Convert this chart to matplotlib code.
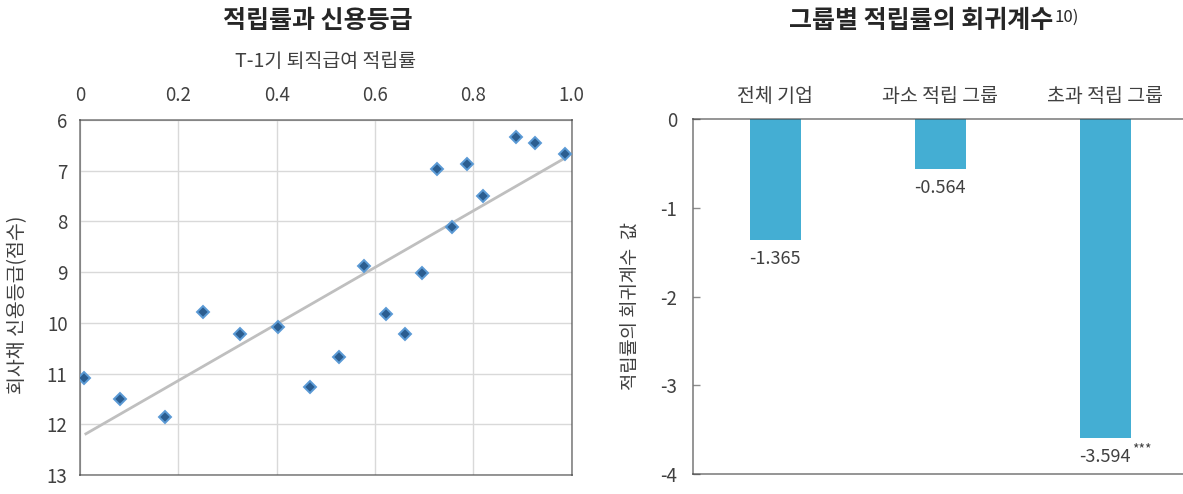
import matplotlib.pyplot as plt
import numpy as np

plt.rcParams['font.family'] = ['Noto Sans CJK KR', 'DejaVu Sans']

# left: 적립률 vs 신용등급
rate = [0.008, 0.081, 0.172, 0.250, 0.325, 0.402, 0.468, 0.527, 0.577, 0.623,
        0.660, 0.695, 0.726, 0.756, 0.788, 0.819, 0.887, 0.925, 0.986]
grade = [11.08, 11.50, 11.85, 9.78, 10.22, 10.08, 11.26, 10.68, 8.87, 9.83,
         10.21, 9.02, 6.96, 8.10, 6.87, 7.49, 6.34, 6.45, 6.68]
rate_ticks = [0, 0.2, 0.4, 0.6, 0.8, 1.0]
rate_ticklabels = ['0', '0.2', '0.4', '0.6', '0.8', '1.0']
grade_ticks = [6, 7, 8, 9, 10, 11, 12, 13]

# right: 그룹별 회귀계수
groups = ['전체 기업', '과소 적립 그룹', '초과 적립 그룹']
coef = [-1.365, -0.564, -3.594]
stars = ['', '', '***']
coef_ticks = [0, -1, -2, -3, -4]

W, H = 1183, 494
text_c = '#404040'
spine_c = (0.25, 0.25, 0.25, 0.6)

fig = plt.figure(figsize=(W / 100, H / 100), dpi=100)

# ---- scatter with trend line
ax1 = fig.add_axes([80 / W, 1 - 475 / H, 491.7 / W, 355 / H])
ax1.set_xlim(0, 1)
ax1.set_ylim(13, 6)
ax1.xaxis.tick_top()
ax1.set_xticks(rate_ticks, rate_ticklabels)
ax1.set_yticks(grade_ticks)
ax1.tick_params(length=0, labelsize=13.5, labelcolor=text_c)
ax1.tick_params(axis='x', pad=10)
ax1.tick_params(axis='y', pad=9)
ax1.grid(color='#d9d9d9', lw=1)
ax1.set_axisbelow(True)
for s in ax1.spines.values():
    s.set_color(spine_c)
    s.set_linewidth(1.3)

b, a = np.polyfit(rate, grade, 1)
xs = np.array([min(rate) + 0.004, max(rate)])
ax1.plot(xs, a + b * xs, color='#bfbfbf', lw=2, zorder=2)
ax1.plot(rate, grade, ls='none', marker='D', ms=6.5, mfc='#2b5d90',
         mec='#5b9ad5', mew=1.4, zorder=3)

ax1.xaxis.set_label_position('top')
ax1.set_xlabel('T-1기 퇴직급여 적립률', fontsize=14, color=text_c, labelpad=13)
fig.text(18 / W, 1 - 305 / H, '회사채 신용등급(점수)', rotation=90,
         ha='center', va='center', fontsize=14, color=text_c)
fig.text((80 + 571.7) / 2 / W - 8 / W, 1 - 21 / H, '적립률과 신용등급',
         ha='center', va='center', fontsize=18, weight='bold', color='#262626')

# ---- bars
ax2 = fig.add_axes([692.7 / W, 1 - 474 / H, 495 / W, (474 - 119.3) / H])
x = np.arange(len(groups))
ax2.bar(x, coef, width=0.31, color='#44aed3', zorder=1)
ax2.set_xlim(-0.5, 2.5)
ax2.set_ylim(-4, 0)
ax2.xaxis.tick_top()
ax2.set_xticks(x, groups)
ax2.set_yticks(coef_ticks, ['0', '-1', '-2', '-3', '-4'])
ax2.tick_params(axis='x', length=0, pad=9, labelsize=14, labelcolor=text_c)
ax2.tick_params(axis='y', direction='in', length=5, width=1, color='#8c8c8c',
                pad=11, labelsize=13.5, labelcolor=text_c)
ax2.spines['right'].set_visible(False)
for k in ['left', 'top', 'bottom']:
    ax2.spines[k].set_color(spine_c)
    ax2.spines[k].set_linewidth(1.3)
    ax2.spines[k].set_zorder(3)

for xi, v, st in zip(x, coef, stars):
    t = ax2.annotate(f'{v:.3f}', (xi, v), xytext=(0, -7), textcoords='offset points',
                     ha='center', va='top', fontsize=13, color=text_c)
    if st:
        ax2.annotate(st, xy=(1, 0.92), xycoords=t, xytext=(1, 0),
                     textcoords='offset points', ha='left', va='center',
                     fontsize=10, color=text_c)

fig.text(631 / W, 1 - 306 / H, '적립률의 회귀계수  값', rotation=90,
         ha='center', va='center', fontsize=13.5, color=text_c)
t2 = fig.text(921 / W, 1 - 21 / H, '그룹별 적립률의 회귀계수',
              ha='center', va='center', fontsize=18, weight='bold', color='#262626')
# footnote mark next to the title
ax2.annotate('10)', xy=(1, 1.0), xycoords=t2, xytext=(1, 0),
             textcoords='offset points', ha='left', va='top',
             fontsize=12, color='#262626', annotation_clip=False)

fig.savefig('out.png', dpi=100)
